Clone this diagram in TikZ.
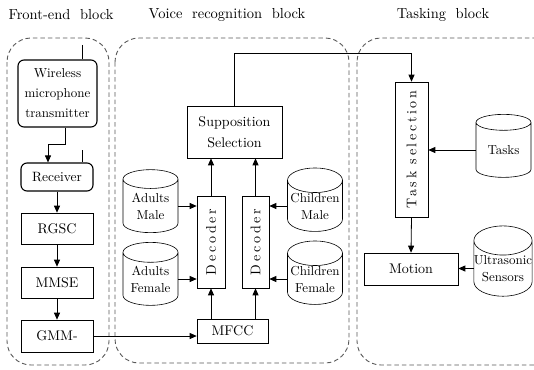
\documentclass[tikz,border=0pt]{standalone}
\usepackage{fontspec}
\setmainfont{lmroman10-regular.otf}[BoldFont=lmroman10-bold.otf, ItalicFont=lmroman10-italic.otf]
\usetikzlibrary{arrows.meta,shapes.geometric}

\begin{document}
\begin{tikzpicture}[x=1pt, y=-1pt,
    font=\fontsize{14}{16}\selectfont,
    blockline/.style={draw=black!65, dash pattern=on 4.5pt off 3pt, line width=0.9pt, rounded corners=24pt},
    unit/.style={draw, line width=0.6pt, inner sep=0pt, align=center},
    rxunit/.style={unit, line width=1.1pt, rounded corners=6pt},
    db/.style={cylinder, shape border rotate=90, aspect=0.5, draw, line width=0.6pt,
               inner sep=0pt, align=center, minimum width=55pt, minimum height=63pt,
               font=\fontsize{13}{17}\selectfont},
    arr/.style={-{Triangle[length=7pt,width=6pt]}, line width=0.8pt}]

          \useasboundingbox (0,0) rectangle (534,369);
          \clip (0,0) rectangle (534,369);

          % the three dashed blocks with their titles
          \draw[blockline] (7,38) rectangle (109,365);
          \draw[blockline] (115,38) rectangle (349,363);
          \draw[blockline] (357,38) rectangle (560,365);

          \node[font=\fontsize{14.5}{16}\selectfont] (t1) at (61,15) {Front-end\ \ block};
          \node[font=\fontsize{14.5}{16}\selectfont] (t2) at (227,15) {Voice\ \ recognition\ \ block};
          \node[font=\fontsize{14.5}{16}\selectfont] (t3) at (443,15) {Tasking\ \ block};

          % front-end block
          \node[rxunit, minimum width=79pt, minimum height=67pt, font=\fontsize{13}{20}\selectfont]
               (wmt) at (57.5,93.5) {Wireless\\microphone\\transmitter};
          \node[rxunit, minimum width=72pt, minimum height=28pt, font=\fontsize{13.5}{16}\selectfont]
               (recv) at (57,177) {Receiver};
          \node[unit, minimum width=72pt, minimum height=31pt] (rgsc) at (57,228.5) {RGSC};
          \node[unit, minimum width=72pt, minimum height=31pt] (mmse) at (57,282.5) {MMSE};
          \node[unit, minimum width=72pt, minimum height=32pt] (gmm) at (57,336) {GMM-};

          \coordinate (ant1) at (82,45);
          \coordinate (ant2) at (82,150);
          \draw[line width=0.8pt] (ant1) -- (ant1 |- wmt.north);
          \draw[line width=0.8pt] (ant2) -- (ant2 |- recv.north);
          \draw[arr] ([xshift=7.5pt]wmt.south) -- ++(0,17) -| ([xshift=-9pt]recv.north);

          \foreach \a/\b in {recv/rgsc, rgsc/mmse, mmse/gmm}{
            \draw[arr] (\a.south) -- (\b.north);
          }

          % voice recognition block
          \node[unit, minimum width=71pt, minimum height=24pt] (mfcc) at (232.5,331) {MFCC};
          \node[unit, minimum width=28pt, minimum height=92pt] (dec1) at (211,242)
               {\rotatebox{90}{\addfontfeature{LetterSpace=20}Decoder}};
          \node[unit, minimum width=27pt, minimum height=92pt] (dec2) at (255.5,242)
               {\rotatebox{90}{\addfontfeature{LetterSpace=20}Decoder}};
          \node[unit, minimum width=95pt, minimum height=52pt, font=\fontsize{14}{21}\selectfont]
               (sup) at (234.5,132) {Supposition\\Selection};

          \node[db] (am) at (150.5,206) {Adults\\Male};
          \node[db] (af) at (150.5,279) {Adults\\Female};
          \node[db] (cm) at (315,206) {Children\\Male};
          \node[db] (cf) at (315,279) {Children\\Female};

          \draw[arr] (gmm.east) -- (gmm.east -| mfcc.west);
          \foreach \d in {dec1,dec2}{
            \draw[arr] (\d.south |- mfcc.north) -- (\d.south);
            \draw[arr] (\d.north) -- (\d.north |- sup.south);
          }
          \foreach \c in {am,af}{
            \draw[arr] (\c.0) -- (\c.0 -| dec1.west);
          }
          \foreach \c in {cm,cf}{
            \draw[arr] (\c.180) -- (\c.180 -| dec2.east);
          }

          % tasking block
          \node[unit, minimum width=33pt, minimum height=135pt] (tsel) at (411.5,149.5)
               {\rotatebox{90}{\addfontfeature{LetterSpace=19}Task selection}};
          \node[unit, minimum width=94pt, minimum height=32pt] (motion) at (411,269) {Motion};
          \node[db] (tasks) at (503.5,150) {Tasks};
          \node[db] (sonar) at (503,268.5) {Ultrasonic\\Sensors};

          \coordinate (bend) at (411.5,53);
          \draw[arr] (sup.north) |- (bend) -- (tsel.north);
          \draw[arr] (tasks.180) -- (tasks.180 -| tsel.east);
          \draw[arr] (tsel.south) -- (motion.north);
          \draw[arr] (sonar.180) -- (sonar.180 -| motion.east);
        \end{tikzpicture}
\end{document}
